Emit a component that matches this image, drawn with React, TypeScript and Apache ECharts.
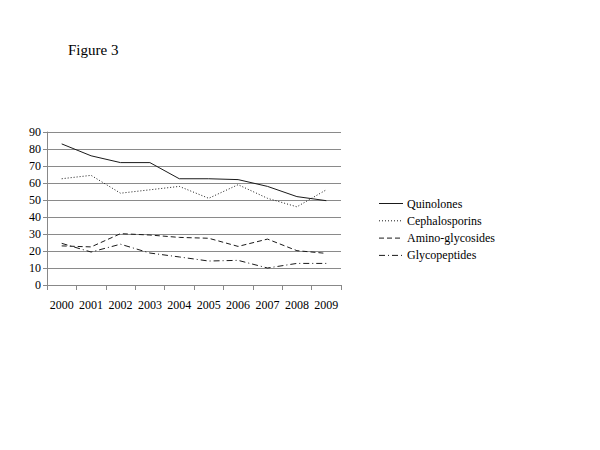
import React, { useEffect, useRef } from "react";
import * as echarts from "echarts";

const years = ["2000", "2001", "2002", "2003", "2004", "2005", "2006", "2007", "2008", "2009"];
const seriesNames = ["Quinolones", "Cephalosporins", "Amino-glycosides", "Glycopeptides"];
const quinolones = [83, 76, 72, 72, 62.5, 62.5, 62, 58, 52, 49.6];
const cephalosporins = [62.5, 64.5, 54, 56, 58, 51, 59, 51, 46, 56];
const aminoglycosides = [23, 22.4, 30.2, 29.4, 28, 27.5, 22.7, 27, 20.2, 18.6];
const glycopeptides = [24.5, 19.4, 24, 18.8, 16.5, 14.1, 14.5, 10, 12.7, 12.7];

const FONT = "'Liberation Serif', 'Times New Roman', serif";
const dashes: any[] = ["solid", [1, 2], [5, 3], [6, 3, 1, 3]];

export default function App() {
  const ref = useRef<HTMLDivElement>(null);
  useEffect(() => {
    const chart = echarts.init(ref.current!, null, { renderer: "svg" });
    const allData = [quinolones, cephalosporins, aminoglycosides, glycopeptides];
    const legendItems: any[] = [];
    seriesNames.forEach((name, i) => {
      const y = 203.5 + i * 17.3;
      legendItems.push({
        type: "line",
        shape: { x1: 379, y1: y, x2: 403, y2: y },
        style: { stroke: "#1a1a1a", lineWidth: 1, lineDash: dashes[i] === "solid" ? null : dashes[i] },
      });
      legendItems.push({
        type: "text",
        x: 407,
        y,
        style: {
          text: name,
          fontFamily: FONT,
          fontSize: 12,
          fill: "#000",
          verticalAlign: "middle",
          align: "left",
        },
      });
    });
    chart.setOption({
      animation: false,
      backgroundColor: "#fff",
      textStyle: { fontFamily: FONT },
      title: {
        text: "Figure 3",
        left: 63,
        top: 37,
        textStyle: { fontFamily: FONT, fontSize: 15, fontWeight: "normal", color: "#000" },
      },
      graphic: legendItems,
      grid: { left: 47, right: 259, top: 132, bottom: 165, containLabel: false },
      xAxis: {
        type: "category",
        data: years,
        boundaryGap: true,
        axisLine: { lineStyle: { color: "#888" } },
        axisTick: { show: true, length: 5, interval: 0, lineStyle: { color: "#888" } },
        axisLabel: { interval: 0, fontFamily: FONT, fontSize: 12, color: "#000", margin: 14 },
      },
      yAxis: {
        type: "value",
        min: 0,
        max: 90,
        interval: 10,
        axisLine: { show: true, lineStyle: { color: "#888" } },
        axisTick: { show: true, length: 4, lineStyle: { color: "#888" } },
        axisLabel: { fontFamily: FONT, fontSize: 12, color: "#000", margin: 6 },
        splitLine: { lineStyle: { color: "#8a8a8a" } },
      },
      series: seriesNames.map((name, i) => ({
        name,
        type: "line",
        data: allData[i],
        showSymbol: false,
        symbol: "none",
        lineStyle: { color: "#1a1a1a", width: 1, type: dashes[i] },
        itemStyle: { color: "#1a1a1a" },
      })),
    });
    return () => chart.dispose();
  }, []);
  return <div ref={ref} style={{ width: 600, height: 450, position: "absolute", left: 0, top: 0 }} />;
}
